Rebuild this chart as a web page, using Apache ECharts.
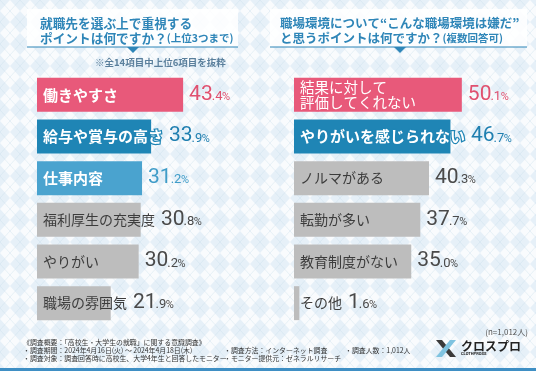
<!DOCTYPE html>
<html><head><meta charset="utf-8">
<script src="https://cdn.jsdelivr.net/npm/echarts@6/dist/echarts.min.js"></script>
<style>html,body{margin:0;padding:0;}#c{width:536px;height:371px;}</style>
</head><body><div id="c"></div>
<script>
// ---- data ----
const leftCategories = ['働きやすさ','給与や賞与の高さ','仕事内容','福利厚生の充実度','やりがい','職場の雰囲気'];
const leftValues = [43.4, 33.9, 31.2, 30.8, 30.2, 21.9];
const rightCategories = ['結果に対して\n評価してくれない','やりがいを感じられない','ノルマがある','転勤が多い','教育制度がない','その他'];
const rightValues = [50.1, 46.7, 40.3, 37.7, 35.0, 1.6];

// ---- styles ----
const leftBarColors = ['#e8597a','#1f85b5','#4aa3cf','#bdbdbd','#bdbdbd','#bdbdbd'];
const leftValColors = ['#e0506f','#1f7fb0','#3f9cc8','#4a4a4a','#4a4a4a','#4a4a4a'];
const rightBarColors = ['#e8597a','#1f85b5','#bdbdbd','#bdbdbd','#bdbdbd','#bdbdbd'];
const rightValColors = ['#e0506f','#1f7fb0','#4a4a4a','#4a4a4a','#4a4a4a','#4a4a4a'];
const JP = '"Noto Sans CJK JP", sans-serif';
const NUM = 'Roboto, "Liberation Sans", sans-serif';

// background pattern
const pc = document.createElement('canvas'); pc.width = 20; pc.height = 22;
const px = pc.getContext('2d');
px.fillStyle = '#e6f0f8'; px.fillRect(0,0,20,22);
px.fillStyle = 'rgba(255,255,255,0.75)';
px.beginPath(); px.moveTo(10,0); px.lineTo(20,11); px.lineTo(10,22); px.lineTo(0,11); px.closePath(); px.fill();
px.strokeStyle = 'rgba(200,220,236,0.6)'; px.lineWidth = 0.6;
px.beginPath(); px.moveTo(0,0); px.lineTo(20,22); px.moveTo(20,0); px.lineTo(0,22); px.stroke();
document.getElementById('c').style.backgroundImage = 'url(' + pc.toDataURL() + ')';

const mctx = document.createElement('canvas').getContext('2d');
function textW(t, font){ mctx.font = font; return Math.max.apply(null, t.split('\n').map(s => mctx.measureText(s).width)); }

const BIG = 21, SMALL = 13, PCT = 11;
function makeRender(cats, barColors, valColors){
  return function(params, api){
    const idx = api.value(1), v = api.value(0);
    const s = api.coord([0, idx]), e = api.coord([v, idx]);
    const band = api.size([0,1])[1];
    const h = band * 0.815;
    const colored = barColors[idx] !== '#bdbdbd';
    const name = cats[idx];
    const multi = name.indexOf('\n') >= 0;
    const fw = (colored && !multi) ? 'bold' : 'normal';
    const fs = colored ? (multi ? 14.5 : 15) : 14;
    const font = fw + ' ' + fs + 'px ' + JP;
    const tw = textW(name, font);
    const vx = Math.max(e[0], s[0] + 6 + tw) + 6;
    const str = v.toFixed(1).split('.');
    const fBig = BIG + 'px ' + NUM, fSm = SMALL + 'px ' + NUM, fP = PCT + 'px ' + NUM;
    const wBig = textW(str[0], fBig) - 1;
    const wDec = textW('.' + str[1], fSm) - 0.5;
    const base = s[1] + 10;
    const c = valColors[idx];
    const nameStyle = {text:name, x:s[0]+6, y:s[1], verticalAlign:'middle', align:'left',
        fill: colored ? '#ffffff' : '#3c3c3c', font:font, lineHeight: 15};
    if (colored) { nameStyle.stroke = barColors[idx]; nameStyle.lineWidth = 2.5; }
    return {type:'group', children:[
      {type:'rect', shape:{x:s[0], y:s[1]-h/2, width:e[0]-s[0], height:h}, style:{fill:barColors[idx]}},
      {type:'text', style:nameStyle},
      {type:'text', style:{text:str[0], x:vx, y:base, verticalAlign:'bottom', font:fBig, fill:c}},
      {type:'text', style:{text:'.' + str[1], x:vx + wBig, y:base - (BIG-SMALL)*0.21, verticalAlign:'bottom', font:fSm, fill:c}},
      {type:'text', style:{text:'%', x:vx + wBig + wDec, y:base - (BIG-PCT)*0.21, verticalAlign:'bottom', font:fP, fill:c}}
    ]};
  };
}

const chart = echarts.init(document.getElementById('c'), null, {renderer:'canvas'});
const titleBlue = '#2f86b8';
const FT = '6.9px ' + JP;
const FC = '#333';
chart.setOption({
  backgroundColor: 'transparent',
  animation: false,
  grid: [
    {left:37, top:74, width:202, height:250},
    {left:294, top:74, width:201, height:250}
  ],
  xAxis: [
    {gridIndex:0, type:'value', min:0, max:60, show:false},
    {gridIndex:1, type:'value', min:0, max:60, show:false}
  ],
  yAxis: [
    {gridIndex:0, type:'category', data:leftCategories, inverse:true, show:false},
    {gridIndex:1, type:'category', data:rightCategories, inverse:true, show:false}
  ],
  series: [
    {type:'custom', clip:false, xAxisIndex:0, yAxisIndex:0, data:leftValues.map((v,i)=>[v,i]), encode:{x:0,y:1},
      renderItem: makeRender(leftCategories, leftBarColors, leftValColors)},
    {type:'custom', clip:false, xAxisIndex:1, yAxisIndex:1, data:rightValues.map((v,i)=>[v,i]), encode:{x:0,y:1},
      renderItem: makeRender(rightCategories, rightBarColors, rightValColors)}
  ],
  graphic: [
    {type:'rect', z:-1, shape:{x:27, y:9, width:211, height:38}, style:{fill:'rgba(255,255,255,0.85)'}},
    {type:'rect', z:-1, shape:{x:270, y:9, width:257, height:38}, style:{fill:'rgba(255,255,255,0.85)'}},
    {type:'line', shape:{x1:27, y1:47, x2:238, y2:47}, style:{stroke:titleBlue, lineWidth:1.2}},
    {type:'polygon', shape:{points:[[127,47],[139,47],[133,53]]}, style:{fill:titleBlue}},
    {type:'line', shape:{x1:270, y1:47, x2:527, y2:47}, style:{stroke:titleBlue, lineWidth:1.2}},
    {type:'polygon', shape:{points:[[394,47],[406,47],[400,53]]}, style:{fill:titleBlue}},
    {type:'text', style:{x:40, y:16, text:'就職先を選ぶ上で重視する\nポイントは何ですか？{s|(上位3つまで)}',
      font:'bold 12.7px '+JP, fill:titleBlue, lineHeight:14.5,
      rich:{s:{fontSize:10.5, fontWeight:'bold', fontFamily:JP, fill:titleBlue, lineHeight:14.5}}}},
    {type:'text', style:{x:280, y:16, text:'職場環境について“こんな職場環境は嫌だ”\nと思うポイントは何ですか？{s|(複数回答可)}',
      font:'bold 12.5px '+JP, fill:titleBlue, lineHeight:14.5,
      rich:{s:{fontSize:10.5, fontWeight:'bold', fontFamily:JP, fill:titleBlue, lineHeight:14.5}}}},
    {type:'text', style:{x:95, y:62, text:'※全14項目中上位6項目を抜粋', font:'bold 9.5px '+JP, fill:'#5a7f9c', verticalAlign:'middle'}},
    {type:'text', style:{x:528, y:332, text:'(n=1,012人)', font:'8px '+JP, fill:'#555', align:'right', verticalAlign:'middle'}},
    {type:'text', style:{x:23, y:342, text:'《調査概要：「高校生・大学生の就職」に関する意識調査》', font:FT, fill:FC, verticalAlign:'middle'}},
    {type:'text', style:{x:23, y:350, text:'・調査期間：2024年4月16日(火) ～ 2024年4月18日(木)', font:FT, fill:FC, verticalAlign:'middle'}},
    {type:'text', style:{x:23, y:358, text:'・調査対象：調査回答時に高校生、大学4年生と回答したモニター', font:FT, fill:FC, verticalAlign:'middle'}},
    {type:'text', style:{x:224, y:350, text:'・調査方法：インターネット調査', font:FT, fill:FC, verticalAlign:'middle'}},
    {type:'text', style:{x:224, y:358, text:'・モニター提供元：ゼネラルリサーチ', font:FT, fill:FC, verticalAlign:'middle'}},
    {type:'text', style:{x:345, y:350, text:'・調査人数：1,012人', font:FT, fill:FC, verticalAlign:'middle'}},
    // logo
    {type:'polygon', shape:{points:[[436,340],[442,340],[456,357],[450,357]]}, style:{fill:'#3a3a3a'}},
    {type:'polygon', shape:{points:[[450,340],[456,340],[442,357],[436,357]]}, style:{fill:'#7fc3e0'}},
    {type:'text', style:{x:461, y:346, text:'クロスプロ', font:'bold 12px '+JP, fill:'#222', verticalAlign:'middle'}},
    {type:'text', style:{x:461, y:354, text:'CLOTHPROSS', font:'bold 4px '+NUM, fill:'#222', verticalAlign:'middle'}},
    {type:'rect', shape:{x:0, y:368, width:536, height:3}, style:{fill:'#3f8fc4'}}
  ]
});
</script></body></html>
